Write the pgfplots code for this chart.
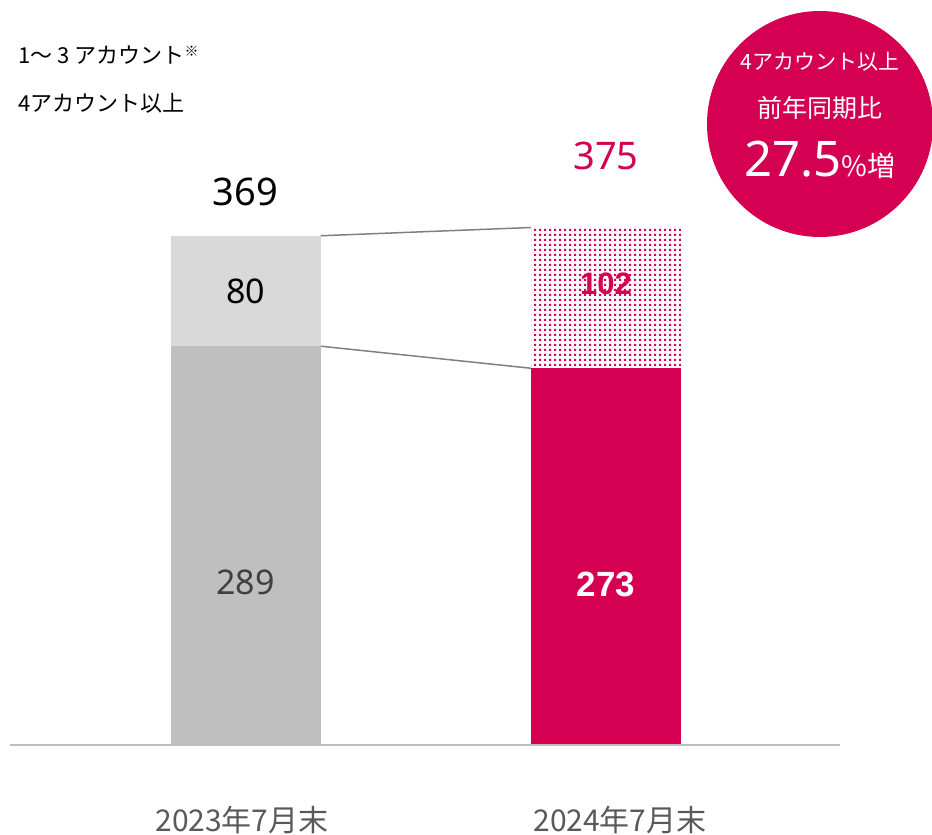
\documentclass[border=0pt]{standalone}
\usepackage{pgfplots}
\pgfplotsset{compat=1.18}
\usepackage{fontspec}
\setmainfont{Noto Sans CJK JP}
\newfontfamily\numfont{Noto Sans}
\newfontfamily\boldnum{Liberation Sans}
\usetikzlibrary{patterns.meta}
\definecolor{crim}{RGB}{214,0,82}
\definecolor{dgrey}{RGB}{191,191,191}
\definecolor{lgrey}{RGB}{217,217,217}
\definecolor{txtgrey}{RGB}{64,64,64}
\definecolor{catgrey}{RGB}{89,89,89}
\definecolor{lngrey}{RGB}{128,128,128}
\tikzdeclarepattern{
  name=finedots,
  type=uncolored,
  bounding box={(0,0) and (2.3pt,2.3pt)},
  tile size={(2.3pt,2.3pt)},
  code={\pgfpathrectangle{\pgfqpoint{0pt}{0pt}}{\pgfqpoint{1.2pt}{1.2pt}}\pgfusepath{fill}}
}
\begin{document}
\begin{tikzpicture}
\useasboundingbox (0,0) rectangle (466pt,417.5pt);
\begin{axis}[at={(5pt,45pt)}, anchor=south west, scale only axis,
  width=415pt, height=276pt,
  xmin=-0.6533, xmax=1.6491, ymin=0, ymax=400,
  axis lines=none, ybar stacked, bar width=75pt, clip=false]
\draw[dgrey, line width=1pt] (axis cs:-0.6533,0) -- (axis cs:1.6491,0);
\addplot[fill=dgrey, draw=none] coordinates {(0,289) (1,0)};
\addplot[fill=crim, draw=none] coordinates {(0,0) (1,273)};
\addplot[fill=lgrey, draw=none] coordinates {(0,80) (1,0)};
\addplot[pattern=finedots, pattern color=crim, draw=none] coordinates {(0,0) (1,102)};
\draw[lngrey, line width=0.75pt] (axis cs:0.2081,369) -- (axis cs:0.7919,375);
\draw[lngrey, line width=0.75pt] (axis cs:0.2081,289) -- (axis cs:0.7919,273);
\coordinate (p289) at (axis cs:0,118);
\coordinate (p80) at (axis cs:0,329);
\coordinate (p369) at (axis cs:0,401);
\coordinate (p273) at (axis cs:1,116);
\coordinate (p102) at (axis cs:1,334);
\coordinate (p375) at (axis cs:1,427);
\end{axis}
\node[text=txtgrey, font=\numfont\fontsize{17}{20}\selectfont] at (p289) {289};
\node[text=black, font=\numfont\fontsize{17}{20}\selectfont] at (p80) {80};
\node[text=black, font=\numfont\fontsize{19}{22}\selectfont] at (p369) {369};
\node[text=white, font=\boldnum\bfseries\fontsize{17.5}{20}\selectfont] at (p273) {273};
\node[text=crim, font=\boldnum\bfseries\fontsize{15.5}{18}\selectfont] at (p102) {102};
\node[text=crim, font=\numfont\fontsize{19}{22}\selectfont] at (p375) {375};
% category labels
\node[text=catgrey, font=\fontsize{15}{18}\selectfont] at (121pt,7.5pt) {2023年7月末};
\node[text=catgrey, font=\fontsize{15}{18}\selectfont] at (310pt,7.5pt) {2024年7月末};
% legend texts
\node[anchor=west, inner sep=0pt, font=\fontsize{11}{13}\selectfont] at (9pt,390pt) {1〜 3 アカウント\raisebox{0.6ex}{\fontsize{7}{8}\selectfont ※}};
\node[anchor=west, inner sep=0pt, font=\fontsize{11}{13}\selectfont] at (9pt,366pt) {4アカウント以上};
% circle
\fill[crim] (410pt,355.5pt) circle (56.5pt);
\node[text=white, font=\fontsize{10.5}{12}\selectfont] at (410pt,386.5pt) {4アカウント以上};
\node[text=white, font=\fontsize{12.5}{15}\selectfont] at (410pt,363.5pt) {前年同期比};
\node[text=white] at (410pt,337.5pt) {{\numfont\fontsize{24.5}{28}\selectfont 27.5}{\fontsize{14}{16}\selectfont\%増}};
\end{tikzpicture}
\end{document}
